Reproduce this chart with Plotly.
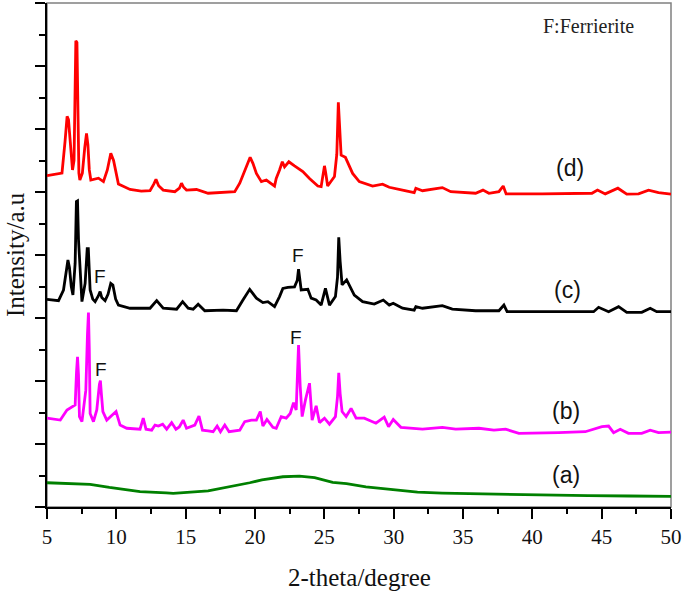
import plotly.graph_objects as go

# ---- data (2-theta in degrees, offset intensity in a.u.) ----
d_x = [5.0, 5.5, 5.96, 6.08, 6.3, 6.45, 6.55, 6.7, 6.84, 6.95, 7.02, 7.08, 7.16, 7.22, 7.3, 7.37,
       7.55, 7.72, 7.85, 7.95, 8.05, 8.16, 8.45, 8.71, 9.07, 9.35, 9.6, 9.8, 10.15, 10.99, 11.8,
       12.43, 12.7, 12.86, 13.05, 13.38, 14.22, 14.55, 14.7, 14.85, 15.06, 15.78, 16.62, 17.7,
       18.54, 18.9, 19.3, 19.65, 19.85, 20.1, 20.46, 20.82, 21.41, 21.53, 21.77, 21.97, 22.13,
       22.44, 22.85, 23.45, 23.93, 24.53, 24.77, 24.92, 25.01, 25.1, 25.24, 25.73, 25.9, 26.01,
       26.1, 26.21, 26.52, 27.04, 27.52, 28.48, 29.2, 29.68, 30.64, 31.48, 31.6, 32.08, 33.51,
       34.12, 35.91, 36.44, 36.87, 37.59, 37.9, 38.11, 40.7, 44.3, 44.7, 45.26, 46.17, 46.81,
       47.66, 48.38, 49.1, 50.0]
d_y = [10.52, 10.55, 10.59, 10.6, 11.6, 12.4, 12.3, 11.3, 10.7, 11.0, 12.7, 14.8, 14.75, 12.0,
       10.6, 10.38, 10.6, 11.4, 11.86, 11.5, 10.7, 10.38, 10.4, 10.44, 10.33, 10.7, 11.23, 11.0,
       10.25, 10.08, 10.03, 10.04, 10.25, 10.4, 10.2, 10.06, 10.01, 10.12, 10.28, 10.15, 10.06,
       10.08, 9.96, 9.99, 10.01, 10.28, 10.7, 11.1, 10.91, 10.59, 10.33, 10.38, 10.19, 10.43, 10.7,
       10.96, 10.8, 10.96, 10.83, 10.65, 10.43, 10.19, 10.17, 10.6, 10.83, 10.6, 10.19, 10.49,
       11.2, 12.85, 12.0, 11.17, 11.1, 10.59, 10.33, 10.19, 10.25, 10.15, 10.06, 9.98, 10.12,
       10.04, 10.14, 10.01, 9.96, 10.06, 9.96, 10.01, 10.19, 9.94, 9.94, 9.96, 10.06, 9.94, 10.12,
       9.93, 9.94, 10.06, 9.98, 9.93]

c_x = [5.0, 5.83, 6.19, 6.38, 6.51, 6.62, 6.75, 6.87, 7.03, 7.12, 7.2, 7.27, 7.35, 7.45, 7.52,
       7.75, 7.9, 7.98, 8.05, 8.11, 8.3, 8.47, 8.7, 8.83, 8.95, 9.19, 9.4, 9.6, 9.75, 9.95, 10.15,
       10.99, 11.83, 12.43, 12.91, 13.38, 14.35, 14.78, 15.18, 15.54, 15.9, 16.38, 17.7, 18.66,
       19.13, 19.62, 20.1, 20.57, 20.93, 21.41, 21.77, 22.01, 22.37, 22.85, 23.05, 23.14, 23.33,
       23.81, 24.05, 24.41, 24.77, 25.08, 25.37, 25.8, 25.95, 26.04, 26.14, 26.28, 26.61, 27.16,
       27.76, 28.6, 29.25, 29.68, 29.97, 30.64, 31.48, 31.6, 32.08, 33.51, 34.23, 35.91, 37.59,
       37.95, 38.18, 40.7, 44.42, 44.78, 45.5, 46.22, 46.81, 47.89, 48.5, 48.97, 50.0]
c_y = [6.59, 6.55, 6.89, 7.5, 7.84, 7.6, 7.0, 6.73, 7.74, 9.7, 9.72, 8.5, 7.74, 6.8, 6.52, 7.1,
       8.2, 8.2, 7.5, 6.89, 6.6, 6.52, 6.7, 6.84, 6.65, 6.55, 6.75, 7.1, 7.05, 6.6, 6.41, 6.31,
       6.31, 6.31, 6.55, 6.31, 6.28, 6.52, 6.31, 6.28, 6.44, 6.23, 6.25, 6.23, 6.57, 6.91, 6.63,
       6.49, 6.52, 6.36, 6.68, 6.94, 6.97, 6.99, 7.2, 7.55, 6.89, 6.91, 6.63, 6.57, 6.41, 6.94,
       6.41, 6.68, 7.3, 8.56, 7.8, 7.05, 7.21, 6.73, 6.52, 6.44, 6.57, 6.41, 6.47, 6.31, 6.25,
       6.36, 6.31, 6.39, 6.28, 6.23, 6.23, 6.41, 6.2, 6.2, 6.2, 6.34, 6.2, 6.36, 6.18, 6.18, 6.31,
       6.2, 6.2]

b_x = [5.0, 5.96, 6.44, 6.8, 7.03, 7.13, 7.2, 7.27, 7.34, 7.52, 7.8, 7.92, 7.99, 8.05, 8.11, 8.35,
       8.59, 8.78, 8.85, 8.92, 9.03, 9.31, 9.67, 9.98, 10.27, 10.75, 11.71, 11.94, 12.14, 12.55,
       12.79, 13.03, 13.34, 13.63, 13.99, 14.3, 14.54, 14.82, 15.06, 15.42, 15.66, 15.96, 16.21,
       16.62, 16.98, 17.27, 17.51, 17.82, 18.13, 18.9, 19.26, 19.74, 20.1, 20.38, 20.57, 20.86,
       21.29, 21.53, 21.89, 22.25, 22.54, 22.78, 22.97, 23.07, 23.14, 23.26, 23.4, 23.64, 23.93,
       24.12, 24.41, 24.65, 25.01, 25.37, 25.8, 25.95, 26.04, 26.14, 26.28, 26.57, 26.93, 27.29,
       27.88, 28.72, 29.32, 29.63, 29.97, 30.52, 31.72, 32.08, 33.51, 34.47, 36.15, 37.23, 38.07,
       39.03, 41.9, 43.82, 45.02, 45.5, 45.86, 46.34, 46.93, 47.89, 48.5, 49.1, 50.0]
b_y = [2.82, 2.76, 3.08, 3.18, 3.24, 4.3, 4.77, 4.2, 2.87, 2.71, 3.71, 5.5, 6.17, 5.0, 2.97, 2.71,
       3.08, 3.9, 4.01, 3.6, 3.03, 2.76, 2.92, 3.03, 2.6, 2.5, 2.47, 2.82, 2.47, 2.44, 2.6, 2.57,
       2.63, 2.47, 2.68, 2.47, 2.54, 2.76, 2.5, 2.55, 2.6, 2.89, 2.44, 2.42, 2.39, 2.57, 2.39,
       2.6, 2.39, 2.44, 2.71, 2.76, 2.76, 3.03, 2.57, 2.78, 2.53, 2.5, 2.87, 2.82, 2.97, 3.31,
       3.08, 4.3, 5.14, 3.82, 2.87, 3.4, 3.93, 2.76, 3.21, 2.68, 2.82, 2.63, 2.87, 3.5, 4.26,
       3.6, 3.03, 2.87, 3.13, 2.82, 2.82, 2.66, 2.85, 2.55, 2.78, 2.53, 2.47, 2.47, 2.53, 2.47,
       2.5, 2.44, 2.47, 2.34, 2.36, 2.39, 2.55, 2.57, 2.36, 2.47, 2.34, 2.34, 2.44, 2.36, 2.38]

a_x = [5.0, 8.11, 9.5, 11.71, 13.6, 14.1, 16.62, 17.0, 19.62, 20.5, 22.01, 23.2, 24.3, 25.6,
       26.6, 28.0, 30.0, 31.72, 33.5, 35.91, 38.0, 40.7, 44.0, 47.0, 50.0]
a_y = [0.77, 0.72, 0.62, 0.49, 0.45, 0.43, 0.51, 0.54, 0.77, 0.86, 0.96, 0.98, 0.93, 0.78,
       0.74, 0.64, 0.56, 0.47, 0.44, 0.42, 0.39, 0.37, 0.36, 0.35, 0.34]

series_labels = ["(d)", "(c)", "(b)", "(a)"]
label_x = [42.69, 42.55, 42.44, 42.44]
label_y = [10.76, 6.89, 3.06, 1.02]

f_x = [8.85, 23.07, 8.89, 22.94]
f_y = [7.31, 7.98, 4.35, 5.37]

x_ticks = [5, 10, 15, 20, 25, 30, 35, 40, 45, 50]

SERIF = "Liberation Serif, Times New Roman, serif"
SANS = "Liberation Sans, Arial, sans-serif"

fig = go.Figure()
for xs, ys, col in [(a_x, a_y, "#008000"), (b_x, b_y, "#FF00FF"),
                    (c_x, c_y, "#000000"), (d_x, d_y, "#FF0000")]:
    fig.add_trace(go.Scatter(x=xs, y=ys, mode="lines",
                             line=dict(color=col, width=2.8), showlegend=False,
                             hoverinfo="skip"))

annotations = []
for t, xx, yy in zip(series_labels, label_x, label_y):
    annotations.append(dict(x=xx, y=yy, xref="x", yref="y", text=t, showarrow=False,
                            font=dict(family=SANS, size=23, color="#111111"),
                            xanchor="center", yanchor="middle"))
for xx, yy in zip(f_x, f_y):
    annotations.append(dict(x=xx, y=yy, xref="x", yref="y", text="F", showarrow=False,
                            font=dict(family=SANS, size=19, color="#111111"),
                            xanchor="center", yanchor="middle"))
annotations.append(dict(x=44.04, y=15.27, xref="x", yref="y", text="F:Ferrierite",
                        showarrow=False, font=dict(family=SERIF, size=20, color="#222222"),
                        xanchor="center", yanchor="middle"))
annotations.append(dict(x=0.5, y=0, xref="paper", yref="paper", text="2-theta/degree",
                        showarrow=False, font=dict(family=SERIF, size=25, color="#111111"),
                        xanchor="center", yanchor="middle", yshift=-70))
annotations.append(dict(x=0, y=0.5, xref="paper", yref="paper", text="Intensity/a.u",
                        showarrow=False, font=dict(family=SERIF, size=25, color="#111111"),
                        xanchor="center", yanchor="middle", xshift=-32, textangle=-90))

fig.update_layout(
    width=685, height=592,
    margin=dict(l=47, r=12, t=3, b=85),
    plot_bgcolor="white", paper_bgcolor="white",
    annotations=annotations,
    shapes=[dict(type="rect", xref="paper", yref="paper", x0=0, y0=0, x1=1, y1=1,
                 line=dict(color="#808080", width=1.5), layer="below")],
    xaxis=dict(range=[5, 50], tickvals=x_ticks, ticktext=[str(v) for v in x_ticks],
               showline=True, linecolor="black", linewidth=2,
               ticks="outside", ticklen=10, tickwidth=2, tickcolor="black",
               minor=dict(dtick=2.5, tick0=5, ticks="outside", ticklen=5, tickwidth=2,
                          tickcolor="black"),
               showgrid=False, zeroline=False,
               tickfont=dict(family=SERIF, size=21, color="#111111")),
    yaxis=dict(range=[0, 16], dtick=2, tick0=0, showticklabels=False,
               showline=True, linecolor="black", linewidth=2,
               ticks="outside", ticklen=10, tickwidth=2, tickcolor="black",
               minor=dict(dtick=1, tick0=0, ticks="outside", ticklen=6, tickwidth=2,
                          tickcolor="black"),
               showgrid=False, zeroline=False),
)

fig.write_html("out.html", config={"displayModeBar": False, "staticPlot": True},
               post_script="document.body.style.margin='0';document.body.style.overflow='hidden';")
